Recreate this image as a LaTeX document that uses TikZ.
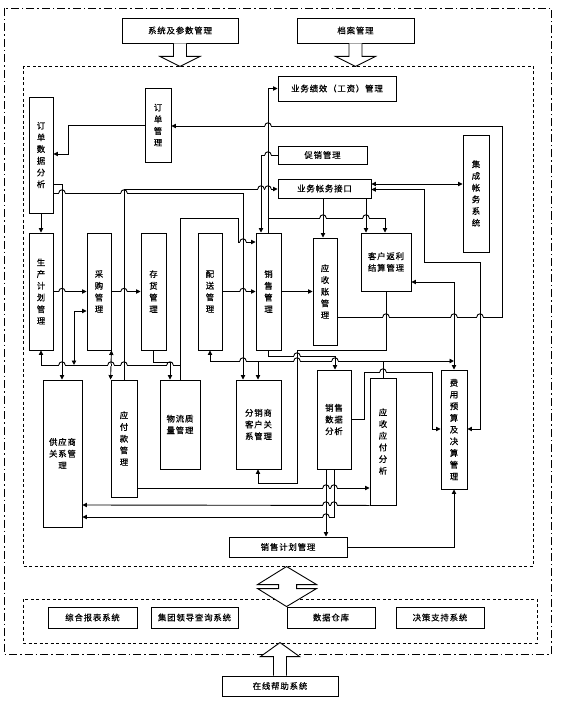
\documentclass[tikz,border=0pt]{standalone}
\usepackage{fontspec}
\newfontfamily\cjk[LetterSpace=10,FakeBold=0.4]{Noto Sans CJK SC}
\usetikzlibrary{arrows.meta}
\tikzset{
  ln/.style={line width=0.9pt},
  box/.style={draw,fill=white,line width=0.9pt,inner sep=0pt,align=center,
    font=\cjk\fontsize{8.4}{11.7}\selectfont},
  >={Triangle[length=4.5pt,width=4.3pt]},
  outerframe/.style={line width=0.8pt,dash pattern=on 8pt off 3pt on 1.5pt off 3pt},
  innerframe/.style={line width=0.8pt,dash pattern=on 3pt off 2.5pt},
  blockarrow/.style={draw,fill=white,line width=0.9pt},
}
\newcommand\bx[6]{\node[box,minimum width={(#4)-(#2)},minimum height={(#5)-(#3)}] (#1) at ({((#2)+(#4))/2},{((#3)+(#5))/2}) {#6};}
\newcommand\hp[2]{%
  \fill[white] ({#1-2.9},{#2-0.9}) rectangle ({#1+2.9},{#2+0.9});
  \draw[ln] ({#1-3.2},{#2}) .. controls ({#1-3.2},{#2-4.2}) and ({#1+3.2},{#2-4.2}) .. ({#1+3.2},{#2});
  \draw[ln] (#1,{#2-1.2}) -- (#1,{#2+1.2});}
\begin{document}
\begin{tikzpicture}[x=1pt,y=-1pt]
\useasboundingbox (0,0) rectangle (560,703);
% frames
\draw[outerframe] (4,8) rectangle (551,654);
\draw[innerframe] (23,66) rectangle (533,566);
\draw[innerframe] (23,599) rectangle (537,643);
% top boxes
\bx{sys}{122}{18}{238}{43}{系统及参数管理}
\bx{arch}{297}{18}{414}{43}{档案管理}
\draw[blockarrow] (sys.south) ++(-6.5,0) -- ++(0,13) -- ++(-13.5,0) -- ++(20,10) -- ++(20,-10) -- ++(-13.5,0) -- ++(0,-13);
\draw[blockarrow] (arch.south) ++(-6.5,0) -- ++(0,13) -- ++(-13.5,0) -- ++(20,10) -- ++(20,-10) -- ++(-13.5,0) -- ++(0,-13);
% main boxes
\bx{oda}{29}{97}{53}{213}{订\\单\\数\\据\\分\\析}
\bx{om}{145}{88}{171}{162}{订\\单\\管\\理}
\bx{perf}{278}{76}{396}{101}{业务绩效（工资）管理}
\bx{promo}{278}{146}{367}{164}{促销管理}
\bx{acif}{278}{179}{371}{198}{业务帐务接口}
\bx{integ}{463}{135}{489}{252}{集\\成\\帐\\务\\系\\统}
\bx{pp}{29}{233}{53}{350}{生\\产\\计\\划\\管\\理}
\bx{pur}{87}{233}{111}{350}{采\\购\\管\\理}
\bx{inv}{141}{233}{166}{350}{存\\货\\管\\理}
\bx{dist}{198}{233}{222}{350}{配\\送\\管\\理}
\bx{sales}{256}{233}{281}{350}{销\\售\\管\\理}
\bx{ar}{313}{238}{337}{345}{应\\收\\账\\管\\理}
\bx{rebate}{361}{233}{411}{291}{客户返利\\结算管理}
\bx{sup}{43}{380}{82}{527}{供应商\\关系管\\理}
\bx{ap}{111}{380}{137}{497}{应\\付\\款\\管\\理}
\bx{lq}{160}{380}{200}{469}{物流质\\量管理}
\bx{dcr}{236}{380}{281}{469}{分销商\\客户关\\系管理}
\bx{sda}{317}{370}{351}{469}{销售\\数据\\分析}
\bx{arap}{370}{378}{396}{505}{应\\收\\应\\付\\分\\析}
\bx{budget}{441}{370}{467}{489}{费\\用\\预\\算\\及\\决\\算\\管\\理}
\bx{splan}{229}{537}{347}{557}{销售计划管理}
% bottom boxes
\bx{rep}{48}{607}{137}{628}{综合报表系统}
\bx{grp}{151}{607}{238}{628}{集团领导查询系统}
\bx{dw}{287}{607}{375}{628}{数据仓库}
\bx{dss}{396}{607}{484}{628}{决策支持系统}
\bx{help}{222}{676}{338}{696}{在线帮助系统}
% double block arrow between frames
\draw[blockarrow] (dw.north west) -- ++(-29,-18) -- ++(21,0) -- ++(0,-4) -- ++(-21,0) -- ++(29,-18) -- ++(30,18) -- ++(-20,0) -- ++(0,4) -- ++(20,0) -- cycle;
% up block arrow from help
\draw[blockarrow] (help.north) ++(-6.5,0) -- ++(0,-19) -- ++(-13,0) -- ++(19.5,-14) -- ++(19.5,14) -- ++(-13,0) -- ++(0,19);
% connectors
\draw[ln,->] (oda.south) -- (pp.north);
\draw[ln,->] (om.west) -- (68,125) -- (68,154) -- (oda.east |- 0,154);
\draw[ln,->] (ar.east |- 0,317) -- (502,317) -- (502,126) -- (om.east |- 0,126);
\draw[ln,->] (oda.east |- 0,184) -- (62,184) -- (sup.north -| 62,0);
\draw[ln,->] (oda.east |- 0,193) -- (243,193) -- (dcr.north -| 243,0);
\draw[ln,->] (ap.north -| 124,0) -- (124,189) -- (acif.west |- 0,189);
\draw[ln,->] (promo.west) -- (261,155) -- (sales.north -| 261,0);
\draw[ln,->] (sales.north -| 268,0) -- (268,88.5) -- (perf.west);
\draw[ln,->] (268,218) -- (385,218) -- (rebate.north -| 385,0);
\draw[ln,->] (acif.south -| 323,0) -- (ar.north -| 323,0);
\draw[ln,->] (acif.south -| 366,0) -- (rebate.north -| 366,0);
\draw[ln,<->] (acif.east |- 0,184) -- (integ.west |- 0,184);
\draw[ln,<->] (acif.east |- 0,189.5) -- (424,189.5) -- (424,262) -- (480,262) -- (480,429) -- (budget.east |- 0,429);
\draw[ln,<->] (rebate.east |- 0,282) -- (454,282) -- (budget.north -| 454,0);
\draw[ln,->] (pp.east) -- (pur.west);
\draw[ln,->] (pur.east) -- (inv.west);
\draw[ln,->] (dist.east) -- (sales.west);
\draw[ln,->] (sales.east) -- (ar.west);
\draw[ln,<->] (pp.south) -- (41,365) -- (180,365) -- (180,218) -- (238,218) -- (238,242) -- (sales.west |- 0,242);
\draw[ln] (180,365) -- (lq.north -| 180,0);
\draw[ln,<->] (74,365) -- (74,311) -- (pur.west |- 0,311);
\draw[ln,<->] (pur.south east) -- (ap.north west);
\draw[ln,->] (inv.south -| 153,0) -- (153,362) -- (170,362) -- (lq.north -| 170,0);
\draw[ln,<->] (dist.south) -- (dist.south |- 0,361) -- (454,361);
\draw[ln,->] (258,361) -- (dcr.north -| 258,0);
\draw[ln] (383,361) -- (arap.north -| 383,0);
\draw[ln,->] (sales.south -| 268,0) -- (268,356) -- (335,356) -- (sda.north -| 335,0);
\draw[ln,->] (rebate.south -| 386,0) -- (386,350) -- (297,350) -- (297,483) -- (258,483) -- (dcr.south -| 258,0);
\draw[ln,->] (sda.east |- 0,419) -- (364,419) -- (364,372) -- (432,372) -- (432,429) -- (budget.west |- 0,429);
\draw[ln,->] (sda.south -| 326,0) -- (splan.north -| 326,0);
\draw[ln,->] (sda.south -| 334,0) -- (334,517) -- (sup.east |- 0,517);
\draw[ln,->] (ap.east |- 0,488) -- (arap.west |- 0,488);
\draw[ln,->] (arap.south west) -- (sup.east |- 0,505);
\draw[ln,->] (splan.east) -- (454,547) -- (budget.south -| 454,0);
% line hops
\hp{268}{126}
\hp{268}{155}
\hp{261}{189}\hp{268}{189}
\hp{62}{193}\hp{124}{193}
\hp{323}{218}\hp{366}{218}
\hp{243}{242}
\hp{62}{291.5}\hp{124}{291.5}\hp{243}{291.5}
\hp{386}{317}\hp{454}{317}\hp{480}{317}
\hp{297}{356}
\hp{243}{361}\hp{297}{361}\hp{335}{361}
\hp{62}{365}\hp{111}{365}\hp{124}{365}\hp{170}{365}
\hp{383}{372}
\hp{326}{488}\hp{334}{488}
\hp{326}{505}\hp{334}{505}
\hp{326}{517}
\end{tikzpicture}
\end{document}
